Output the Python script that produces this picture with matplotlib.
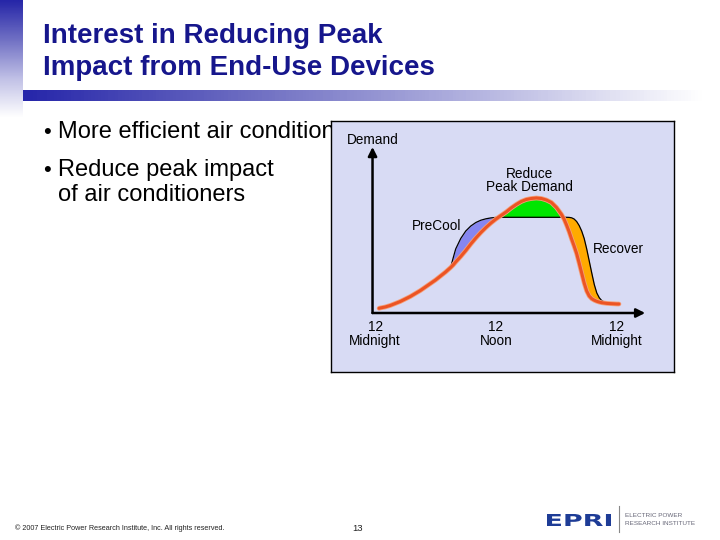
import matplotlib
matplotlib.use('Agg')
import matplotlib.pyplot as plt
import numpy as np
from matplotlib.colors import LinearSegmentedColormap
from matplotlib.textpath import TextPath
from matplotlib.patches import PathPatch
from matplotlib.font_manager import FontProperties
from matplotlib.transforms import Affine2D

plt.rcParams['font.family'] = ['Liberation Sans', 'DejaVu Sans']

# hour of day and demand (arbitrary units)
hours = [0.4, 0.5, 1.0, 1.5, 2.0, 2.5, 3.0, 3.5, 4.0, 4.5, 5.0, 5.5, 6.0, 6.5, 7.0,
         7.5, 7.75, 8.0, 8.5, 9.0, 9.5, 10.0, 10.5, 11.0, 11.5, 12.0, 12.5, 13.0,
         13.5, 14.0, 14.5, 15.0, 15.5, 16.0, 16.5, 17.0, 17.5, 18.0, 18.5, 18.75,
         19.0, 19.25, 19.5, 19.75, 20.0, 20.25, 20.5, 20.75, 21.0, 21.25, 21.5,
         21.75, 22.0, 22.25, 22.5, 23.0, 23.5, 24.0, 24.2]
baseline = [4.7, 5, 6, 7.5, 9.5, 11.5, 14, 16.5, 19.5, 22.5, 26, 29.5, 33, 37, 41,
            45.5, 48, 51, 56.5, 62.5, 69, 75, 80.5, 85.5, 90, 94, 97.5, 101,
            105, 108.5, 111.5, 113.5, 114.5, 115, 114.5, 113, 110.5, 105.5, 98.5, 94,
            88, 81.5, 74, 67, 59.5, 50, 40, 30, 22, 17, 14.3,
            12.8, 11.7, 10.9, 10.3, 9.6, 9.3, 9, 9]
shifted = [4.7, 5, 6, 7.5, 9.5, 11.5, 14, 16.5, 19.5, 22.5, 26, 29.5, 33, 37, 41,
           45.5, 55, 64, 74.5, 82, 87, 90.5, 92.8, 94.2, 95.1, 95.6, 95.7, 95.7,
           95.7, 95.7, 95.7, 95.7, 95.7, 95.7, 95.7, 95.7, 95.7, 95.7, 95.7, 95.7,
           95.7, 95.6, 95.2, 94, 91.5, 87.5, 82, 74.5, 64, 52, 40,
           28.5, 20, 15.2, 12.3, 9.6, 9.3, 9, 9]

tick_hours = [0, 12, 24]
tick_labels = ['12\nMidnight', '12\nNoon', '12\nMidnight']

hours = np.array(hours)
baseline = np.array(baseline)
shifted = np.array(shifted)

fig = plt.figure(figsize=(7.2, 5.4), dpi=100)

# slide background in pixel coordinates
bg = fig.add_axes([0, 0, 1, 1])
bg.axis('off')

vcmap = LinearSegmentedColormap.from_list('v', ['#2626a8', '#7070c4', '#c0c0e6', '#ffffff'])
bg.imshow(np.linspace(0, 1, 100).reshape(-1, 1), cmap=vcmap, aspect='auto',
          extent=(0, 23, 118, 0), origin='upper')
hcmap = LinearSegmentedColormap.from_list('h', ['#2626aa', '#6e6ec2', '#b4b4e0', '#ffffff'])
bg.imshow(np.linspace(0, 1, 200).reshape(1, -1), cmap=hcmap, aspect='auto',
          extent=(23, 705, 101, 90), origin='upper')
bg.set_xlim(0, 720)
bg.set_ylim(540, 0)

title_color = '#16168c'
bg.text(43, 43, 'Interest in Reducing Peak', fontsize=20, fontweight='bold',
        color=title_color, va='baseline')
bg.text(43, 75, 'Impact from End-Use Devices', fontsize=20, fontweight='bold',
        color=title_color, va='baseline')

bullets = [(138, '•', 'More efficient air conditioners'),
           (176, '•', 'Reduce peak impact'),
           (201, '', 'of air conditioners')]
for y, b, s in bullets:
    if b:
        bg.text(43, y, b, fontsize=16, va='baseline', color='black')
    bg.text(58, y, s, fontsize=17, va='baseline', color='black')

bg.text(15, 530, '© 2007 Electric Power Research Institute, Inc. All rights reserved.',
        fontsize=5.2, va='baseline', color='#222222')
bg.text(358, 531, '13', fontsize=6.8, ha='center', va='baseline', color='#222222')

# EPRI logo
tp = TextPath((0, 0), 'EPRI', size=1, prop=FontProperties(family='DejaVu Sans', weight='bold'))
ext = tp.get_extents()
tr = Affine2D().translate(-ext.x0, -ext.y0).scale(64 / ext.width, -12 / ext.height).translate(547, 526)
bg.add_patch(PathPatch(tr.transform_path(tp), facecolor='#1e3c96', edgecolor='none'))
bg.plot([619, 619], [506, 532], color='#888888', lw=0.8)
bg.text(625, 517, 'ELECTRIC POWER', fontsize=4.6, color='#666677', va='baseline')
bg.text(625, 525, 'RESEARCH INSTITUTE', fontsize=4.6, color='#666677', va='baseline')

# chart panel
ax = fig.add_axes([331 / 720, 1 - 372 / 540, 343 / 720, 251 / 540])
ax.set_facecolor('#d8dbf4')
for sp in ax.spines.values():
    sp.set_color('black')
    sp.set_linewidth(1)
ax.set_xticks([])
ax.set_yticks([])
ax.set_xlim(-4.37, 29.66)
ax.set_ylim(-59, 192)

ax.fill_between(hours, baseline, shifted, where=(shifted > baseline) & (hours < 15),
                interpolate=True, color='#8686f0', lw=0)
ax.fill_between(hours, shifted, baseline, where=baseline > shifted,
                interpolate=True, color='#00e600', lw=0)
ax.fill_between(hours, baseline, shifted, where=(shifted > baseline) & (hours > 15),
                interpolate=True, color='#ffaa00', lw=0)
ax.plot(hours, shifted, color='black', lw=0.9)
ax.plot(hours, baseline, color='#f4a07a', lw=3.4, solid_capstyle='round')
ax.plot(hours, baseline, color='#ec5424', lw=2.2, solid_capstyle='round')

arrow = dict(arrowstyle='-|>', color='black', lw=1.8, mutation_scale=13,
             shrinkA=0, shrinkB=0)
ax.annotate('', xy=(-0.25, 166), xytext=(-0.25, 0), arrowprops=arrow)
ax.annotate('', xy=(26.8, 0), xytext=(-0.25, 0), arrowprops=arrow)

ax.text(-0.2, 173, 'Demand', fontsize=9.8, ha='center', va='center')
ax.text(15.3, 132.5, 'Reduce\nPeak Demand', fontsize=9.8, ha='center', va='center',
        linespacing=0.95)
ax.text(6.15, 87, 'PreCool', fontsize=9.8, ha='center', va='center')
ax.text(24.1, 64, 'Recover', fontsize=9.8, ha='center', va='center')
for h, lab in zip(tick_hours, tick_labels):
    ax.text(h, -21, lab, fontsize=9.8, ha='center', va='center', linespacing=1.0)

fig.savefig('out.png', dpi=100)
